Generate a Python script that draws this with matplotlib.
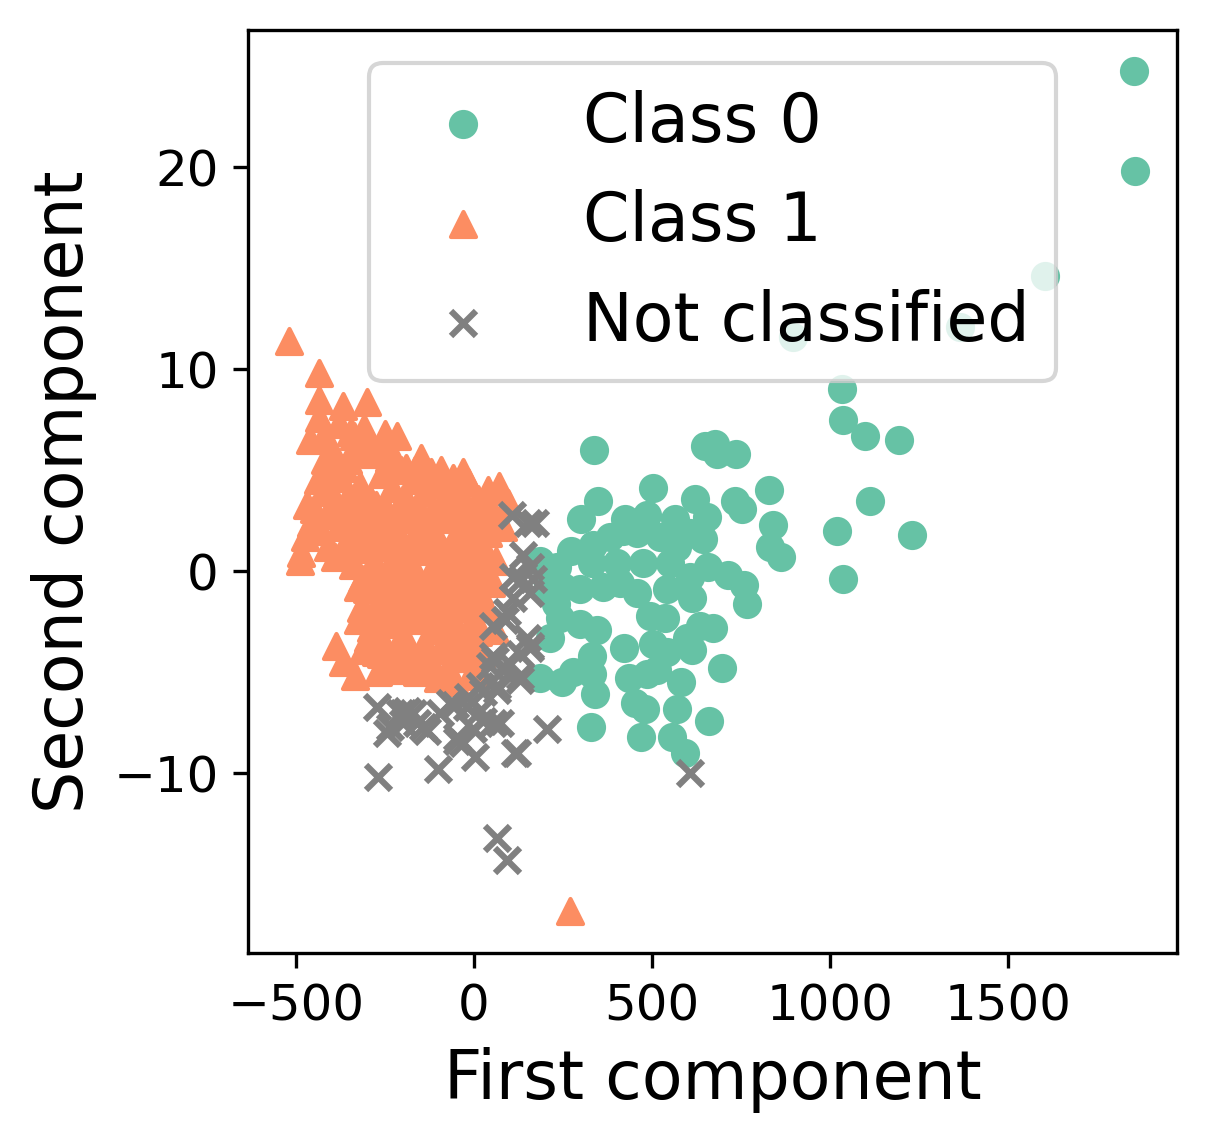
import matplotlib
matplotlib.use('Agg')
import matplotlib.pyplot as plt

# Class 0 (green circles)
class0_x = [337, 348, 301, 503, 424, 486, 565, 621, 654, 649, 677, 683, 736, 733, 753,
            829, 840, 831, 862, 272, 334, 382, 419, 457, 522, 570, 607, 643, 331, 401,
            475, 551, 233, 205, 250, 298, 362, 410, 457, 542, 612, 607, 657, 713, 758,
            767, 242, 298, 345, 494, 537, 635, 671, 598, 213, 421, 503, 542, 612, 331,
            331, 435, 486, 514, 697, 185, 247, 278, 340, 581, 452, 480, 570, 660, 329,
            469, 556, 593, 185, 208, 230, 1034, 1037, 1098, 1194, 1112, 1020, 1230, 1037,
            1854, 1857, 1604, 896, 1365]
class0_y = [6.0, 3.5, 2.6, 4.1, 2.6, 2.8, 2.6, 3.6, 2.7, 6.2, 6.3, 5.8, 5.8, 3.5, 3.1,
            4.0, 2.3, 1.2, 0.7, 1.0, 1.3, 1.7, 2.0, 1.9, 1.7, 1.2, 1.9, 1.6, 0.4, 0.4,
            0.4, 0.4, 0.2, -0.4, -0.8, -0.9, -0.8, -0.6, -1.1, -0.9, -1.3, -0.3, 0.2, -0.2, -0.7,
            -1.6, -2.3, -2.6, -2.9, -2.2, -2.3, -2.7, -2.8, -3.3, -3.3, -3.8, -3.6, -4.0, -3.9, -4.2,
            -5.1, -5.3, -5.1, -4.9, -4.8, -5.3, -5.5, -5.0, -6.1, -5.5, -6.5, -6.8, -6.8, -7.4, -7.7,
            -8.2, -8.2, -9.0, 0.5, -0.9, -1.6, 9.0, 7.5, 6.7, 6.5, 3.5, 2.0, 1.8, -0.4,
            24.75, 19.8, 14.6, 11.6, 12.1]

# Class 1 (orange triangles)
class1_x = [-520, -435, -435, -368, -301, -435, -461, -337, -250, -216, -298, -418, -354,
            -438, -402, -205, -166, -93, -39, -17, 70, 96, 39, -458, -475, -486, -489,
            -410, -390, -354, 39, 62, 48, -326, -317, -326, -298, -388, -312, -368, -334,
            -261, -270, -233, -185, -129, -73, -53, 3, 20, 59, 20, -25, 270,
            -380, -350, -320, -290, -260, -230, -200, -170, -140, -110, -80, -50, -20, 10, 30,
            -410, -380, -350, -320, -290, -260, -230, -200, -170, -140, -110, -80, -50, -20, 10,
            -370, -340, -310, -280, -250, -220, -190, -160, -130, -100, -70, -40, -10, 20,
            -300, -270, -240, -210, -180, -150, -120, -90, -60, -30, 0, 30,
            -290, -260, -230, -200, -170, -140, -110, -80, -50, -20, 10,
            -240, -210, -180, -150, -120, -90, -60, -30, -10, -100, -160,
            -450, -430, -470, -400, -380, -330, -280, -260, -220, -190, -150, -120, -60, -30, 40,
            -395, -365, -335, -305, -275, -245, -215, -185, -155, -125, -95, -65, -35, -5, 25, 55,
            -355, -325, -295, -265, -235, -205, -175, -145, -115, -85, -55, -25, 5, 35,
            -315, -285, -255, -225, -195, -165, -135, -105, -75, -45, -15, 15, 45,
            -305, -275, -245, -215, -185, -155, -125, -95, -65, -35, -5,
            -275, -225, -195, -135, -75, -45, -15, -415, -425, -365, -345, -395, -310, -240, 80]
class1_y = [11.4, 9.8, 8.5, 8.2, 8.4, 7.6, 6.5, 6.7, 6.8, 6.7, 6.5, 5.5, 5.5,
            4.5, 3.9, 5.0, 5.0, 5.0, 4.4, 4.4, 4.2, 3.4, 3.0, 2.4, 1.7, 0.9, 0.5,
            1.2, 0.7, 0.9, 1.9, 0.5, -0.6, -0.8, -1.8, -2.4, -3.3, -3.7, -3.9, -4.5, -5.2,
            -4.1, -5.0, -4.8, -4.1, -4.8, -4.9, -5.5, -5.0, -4.1, -2.9, -1.8, -1.3, -16.8,
            4.6, 3.8, 4.2, 3.5, 4.8, 4.1, 3.6, 4.5, 3.9, 4.3, 3.4, 3.8, 3.2, 3.6, 2.5,
            2.8, 2.2, 2.9, 2.4, 1.8, 2.7, 2.1, 2.9, 1.7, 2.5, 1.9, 2.8, 1.5, 2.2, 1.4,
            0.9, 0.3, 1.1, 0.5, -0.2, 0.8, 0.2, 1.0, -0.3, 0.6, -0.1, 0.9, 0.1, -0.5,
            -0.9, -1.6, -1.1, -1.9, -0.8, -1.5, -2.1, -1.2, -1.8, -0.9, -2.3, -1.6,
            -2.8, -3.4, -2.6, -3.1, -2.4, -3.6, -2.9, -3.3, -2.7, -3.5, -3.0,
            -4.4, -3.9, -4.6, -4.1, -4.5, -3.9, -4.3, -4.0, -5.2, -5.3, -5.0,
            3.1, 2.0, 3.3, 6.0, 7.3, 5.9, 5.8, 6.2, 5.4, 5.1, 5.6, 4.9, 4.6, 4.9, 4.0,
            3.4, 3.1, 3.6, 2.9, 3.3, 3.0, 2.6, 3.4, 3.1, 2.7, 3.2, 2.6, 2.9, 2.5, 1.9, 2.8,
            1.6, 1.9, 1.3, 1.5, 1.2, 1.6, 1.1, 1.8, 1.3, 1.0, 1.6, 1.2, 0.8, 0.9,
            -0.4, 0.1, -0.6, -0.1, -0.5, 0.0, -0.7, -0.2, -0.6, 0.2, -0.8, -1.0, -0.3,
            -2.0, -2.3, -1.9, -2.4, -1.7, -2.2, -1.6, -2.4, -2.2, -1.6, -1.3,
            -4.0, -4.9, -3.5, -3.7, -3.6, -3.0, -4.3, 4.1, 6.6, 5.1, 6.9, 5.3, 7.1, 5.6, 2.2]

# Not classified (grey crosses)
nc_x = [107, 152, 171, 138, 157, 110, 135, 166, 157, 110, 93, 53, 87, 149, 157, 129, 53,
        96, 45, 129, 65, 17, -17, -53, -96, 17, 53, 73, -3, -48, 3, 115, 205, -101, 65,
        93, -270, -199, -236, -143, -171, -272, -244, -208, -188, -199, -160, -132, -48,
        -31, 25, 121, -67, -20, 25, 59, 81, 129, 157, 65, 607]
nc_y = [2.8, 2.4, 2.4, 0.8, 0.2, -0.3, -0.4, -0.4, -1.1, -1.3, -2.0, -2.7, -2.4, -3.3,
        -3.7, -4.1, -4.2, -4.5, -4.7, -5.4, -5.7, -5.7, -6.2, -6.6, -7.0, -6.9, -7.5, -7.5,
        -7.8, -8.4, -9.2, -9.0, -7.8, -9.8, -13.2, -14.3, -10.2, -7.0, -7.7, -7.7, -7.0,
        -6.7, -8.0, -7.0, -6.9, -7.5, -7.5, -7.9, -8.2, -8.5, -7.4, -9.0, -6.5, -6.7, -6.0,
        -4.4, -4.9, -5.2, -3.8, -5.9, -10.0]

labels = ['Class 0', 'Class 1', 'Not classified']

fig = plt.figure(figsize=(1207 / 300, 1143 / 300), dpi=300)
ax = fig.add_axes([0.2055, 0.1662, 0.7696, 0.8076])

ax.scatter(class0_x, class0_y, c='#66c2a5', marker='o', s=36, label=labels[0])
ax.scatter(class1_x, class1_y, c='#fc8d62', marker='^', s=36, label=labels[1])
ax.scatter(nc_x, nc_y, c='grey', marker='x', s=36, label=labels[2])

ax.set_xlim(-635, 1975)
ax.set_ylim(-18.9, 26.8)
ax.set_xticks([-500, 0, 500, 1000, 1500])
ax.set_yticks([-10, 0, 10, 20])
ax.tick_params(labelsize=12)

ax.set_xlabel('First component', fontsize=16)
ax.set_ylabel('Second component', fontsize=16)
ax.legend(loc='upper center', fontsize=16)

fig.savefig('out.png', dpi=300)
